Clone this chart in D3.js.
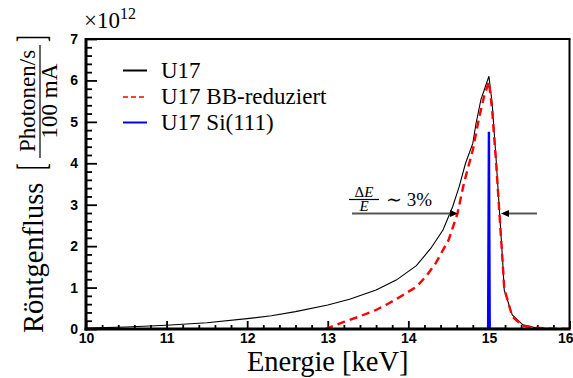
<!DOCTYPE html>
<html><head><meta charset="utf-8">
<script src="https://cdn.jsdelivr.net/npm/d3@7"></script>
<style>
html,body{margin:0;padding:0;background:#fff;}
svg{display:block;}
.tick text{font-family:"Liberation Sans",Arial,sans-serif;font-weight:bold;font-size:14px;fill:#000;}
.serif{font-family:"Liberation Serif","Times New Roman","DejaVu Serif",serif;fill:#000;}
</style></head>
<body>
<svg id="chart" width="573" height="378"></svg>
<script>
// Undulator U17 spectrum (flux in units of 1e12 photons/s/100 mA)
const energyU17 = [10, 10.5, 11, 11.5, 12, 12.3, 12.6, 13, 13.27, 13.6, 13.85, 14.1, 14.28, 14.43, 14.55, 14.63, 14.71, 14.8, 14.84, 14.9, 15.0, 15.04, 15.09, 15.13, 15.17, 15.19, 15.29, 15.42, 15.58, 15.8, 16];
const fluxU17   = [0.02, 0.05, 0.09, 0.15, 0.25, 0.32, 0.42, 0.58, 0.72, 0.94, 1.18, 1.53, 1.95, 2.39, 2.95, 3.43, 4.0, 4.48, 4.96, 5.53, 6.1, 5.45, 4.08, 2.87, 1.66, 0.94, 0.34, 0.1, 0.03, 0.01, 0.0];

// Bandwidth-reduced spectrum
const energyBB = [12.97, 13.2, 13.39, 13.6, 13.76, 13.9, 14.1, 14.22, 14.34, 14.5, 14.61, 14.69, 14.8, 14.88, 14.94, 15.0, 15.04, 15.09, 15.13, 15.17, 15.19, 15.29, 15.42, 15.58, 15.8, 16];
const fluxBB   = [0.0, 0.17, 0.3, 0.46, 0.62, 0.78, 1.02, 1.27, 1.59, 2.15, 2.79, 3.52, 4.32, 5.12, 5.61, 5.97, 5.29, 4.0, 2.8, 1.62, 0.98, 0.3, 0.08, 0.03, 0.01, 0.0];

// After the Si(111) monochromator
const energySi = [14.8, 14.99, 15.0, 15.01, 15.2];
const fluxSi   = [0, 0, 4.76, 0, 0];

const xTickValues = [10, 11, 12, 13, 14, 15, 16];
const yTickValues = [0, 1, 2, 3, 4, 5, 6, 7];
const legendLabels = ["U17", "U17 BB-reduziert", "U17 Si(111)"];

const svg = d3.select("#chart");
const x = d3.scaleLinear().domain([10, 16]).range([86, 569.5]);
const y = d3.scaleLinear().domain([0, 7]).range([329, 39]);

svg.append("defs").append("clipPath").attr("id", "plotArea")
  .append("rect").attr("x", x(10)).attr("y", y(7))
  .attr("width", x(16) - x(10)).attr("height", y(0) - y(7));

// minor ticks
const xMinor = d3.range(0, 31).map(i => 10 + i * 0.2).filter(v => Math.abs(v - Math.round(v)) > 1e-6);
const yMinor = d3.range(0, 36).map(i => i * 0.2).filter(v => Math.abs(v - Math.round(v)) > 1e-6);

const gxMinor = svg.append("g").attr("transform", `translate(0,${y(0)})`)
  .call(d3.axisBottom(x).tickValues(xMinor).tickSize(-4).tickFormat(""));
const gyMinor = svg.append("g").attr("transform", `translate(${x(10)},0)`)
  .call(d3.axisLeft(y).tickValues(yMinor).tickSize(-6).tickFormat(""));
const gx = svg.append("g").attr("transform", `translate(0,${y(0)})`)
  .call(d3.axisBottom(x).tickValues(xTickValues).tickSize(-8).tickPadding(4).tickFormat(d3.format("d")));
const gy = svg.append("g").attr("transform", `translate(${x(10)},0)`)
  .call(d3.axisLeft(y).tickValues(yTickValues).tickSize(-11).tickPadding(8).tickFormat(d3.format("d")));
[gxMinor, gyMinor, gx, gy].forEach(g => {
  g.select(".domain").remove();
  g.selectAll(".tick line").attr("stroke", "#000").attr("stroke-width", 1.8);
});
gx.selectAll(".tick text").attr("dy", "0.74em");
// the last label sits at the page edge; keep it inside
gx.selectAll(".tick text").filter(d => d === 16).attr("text-anchor", "end").attr("x", 573 - x(16));

// curves
const line = d3.line().x(d => x(d[0])).y(d => y(d[1]));
const plot = svg.append("g").attr("clip-path", "url(#plotArea)");
plot.append("path").datum(d3.zip(energyU17, fluxU17))
  .attr("d", line).attr("fill", "none").attr("stroke", "#000").attr("stroke-width", 1.1);
plot.append("path").datum(d3.zip(energyBB, fluxBB))
  .attr("d", line).attr("fill", "none").attr("stroke", "#ff0000").attr("stroke-width", 2.4)
  .attr("stroke-dasharray", "8,5");
plot.append("path").datum(d3.zip(energySi, fluxSi))
  .attr("d", line).attr("fill", "none").attr("stroke", "#0000ff").attr("stroke-width", 2.4);

// frame
const frame = svg.append("g").attr("stroke", "#000").attr("fill", "none");
frame.append("line").attr("x1", x(10)).attr("x2", x(10)).attr("y1", y(7) - 1).attr("y2", y(0) + 1.5).attr("stroke-width", 3);
frame.append("line").attr("x1", x(10) - 1.5).attr("x2", x(16) + 1).attr("y1", y(0)).attr("y2", y(0)).attr("stroke-width", 3);
frame.append("line").attr("x1", x(10)).attr("x2", x(16) + 1).attr("y1", y(7)).attr("y2", y(7)).attr("stroke-width", 2);
frame.append("line").attr("x1", x(16)).attr("x2", x(16)).attr("y1", y(7)).attr("y2", y(0)).attr("stroke-width", 2);

// exponent
const expo = svg.append("text").attr("class", "serif").attr("x", 84).attr("y", 28).attr("font-size", 23);
expo.append("tspan").text("×10");
expo.append("tspan").attr("font-size", 16).attr("dy", -9).text("12");

// x title
svg.append("text").attr("class", "serif").attr("x", (x(10) + x(16)) / 2).attr("y", 371)
  .attr("text-anchor", "middle").attr("font-size", 28.5).text("Energie [keV]");

// y title (rotated frame: u = -screenY, v = screenX)
const yt = svg.append("g").attr("transform", "rotate(-90)");
yt.append("text").attr("class", "serif").attr("x", -333).attr("y", 43)
  .attr("font-size", 28.5).text("Röntgenfluss");
yt.append("text").attr("class", "serif").attr("transform", "translate(-170,45) scale(1,2)")
  .attr("font-size", 20).text("[");
yt.append("text").attr("class", "serif").attr("x", -101).attr("y", 35)
  .attr("text-anchor", "middle").attr("font-size", 23).text("Photonen/s");
yt.append("line").attr("x1", -158).attr("x2", -45).attr("y1", 40).attr("y2", 40)
  .attr("stroke", "#000").attr("stroke-width", 1.2);
yt.append("text").attr("class", "serif").attr("x", -101).attr("y", 57)
  .attr("text-anchor", "middle").attr("font-size", 23).text("100 mA");
yt.append("text").attr("class", "serif").attr("transform", "translate(-42,45) scale(1,2)")
  .attr("font-size", 20).text("]");

// legend
const legendY = [70.5, 97, 122.5];
const lg = svg.append("g");
lg.append("line").attr("x1", 123).attr("x2", 147).attr("y1", legendY[0]).attr("y2", legendY[0])
  .attr("stroke", "#000").attr("stroke-width", 2);
lg.append("line").attr("x1", 123).attr("x2", 147).attr("y1", legendY[1]).attr("y2", legendY[1])
  .attr("stroke", "#ff0000").attr("stroke-width", 1.6).attr("stroke-dasharray", "5,3");
lg.append("line").attr("x1", 123).attr("x2", 147).attr("y1", legendY[2]).attr("y2", legendY[2])
  .attr("stroke", "#0000ff").attr("stroke-width", 2);
legendLabels.forEach((t, i) => {
  lg.append("text").attr("class", "serif").attr("x", 161).attr("y", legendY[i] + 7)
    .attr("font-size", 23).text(t);
});

// resolution annotation
const ann = svg.append("g");
const num = ann.append("text").attr("class", "serif").attr("x", 364).attr("y", 197)
  .attr("text-anchor", "middle").attr("font-size", 15);
num.append("tspan").text("Δ");
num.append("tspan").attr("font-style", "italic").text("E");
ann.append("line").attr("x1", 349).attr("x2", 379).attr("y1", 199.5).attr("y2", 199.5)
  .attr("stroke", "#000").attr("stroke-width", 1.2);
ann.append("text").attr("class", "serif").attr("x", 364).attr("y", 211)
  .attr("text-anchor", "middle").attr("font-size", 15).attr("font-style", "italic").text("E");
ann.append("text").attr("class", "serif").attr("x", 386).attr("y", 206)
  .attr("font-size", 19).text("∼ 3%");

const arrowY = 213.5;
ann.append("line").attr("x1", 352).attr("x2", 452).attr("y1", arrowY).attr("y2", arrowY)
  .attr("stroke", "#555").attr("stroke-width", 2);
ann.append("path").attr("d", `M458,${arrowY} L450,${arrowY - 3.5} L450,${arrowY + 3.5} Z`).attr("fill", "#000");
ann.append("line").attr("x1", 537).attr("x2", 507).attr("y1", arrowY).attr("y2", arrowY)
  .attr("stroke", "#555").attr("stroke-width", 2);
ann.append("path").attr("d", `M501,${arrowY} L509,${arrowY - 3.5} L509,${arrowY + 3.5} Z`).attr("fill", "#000");
</script>
</body></html>
